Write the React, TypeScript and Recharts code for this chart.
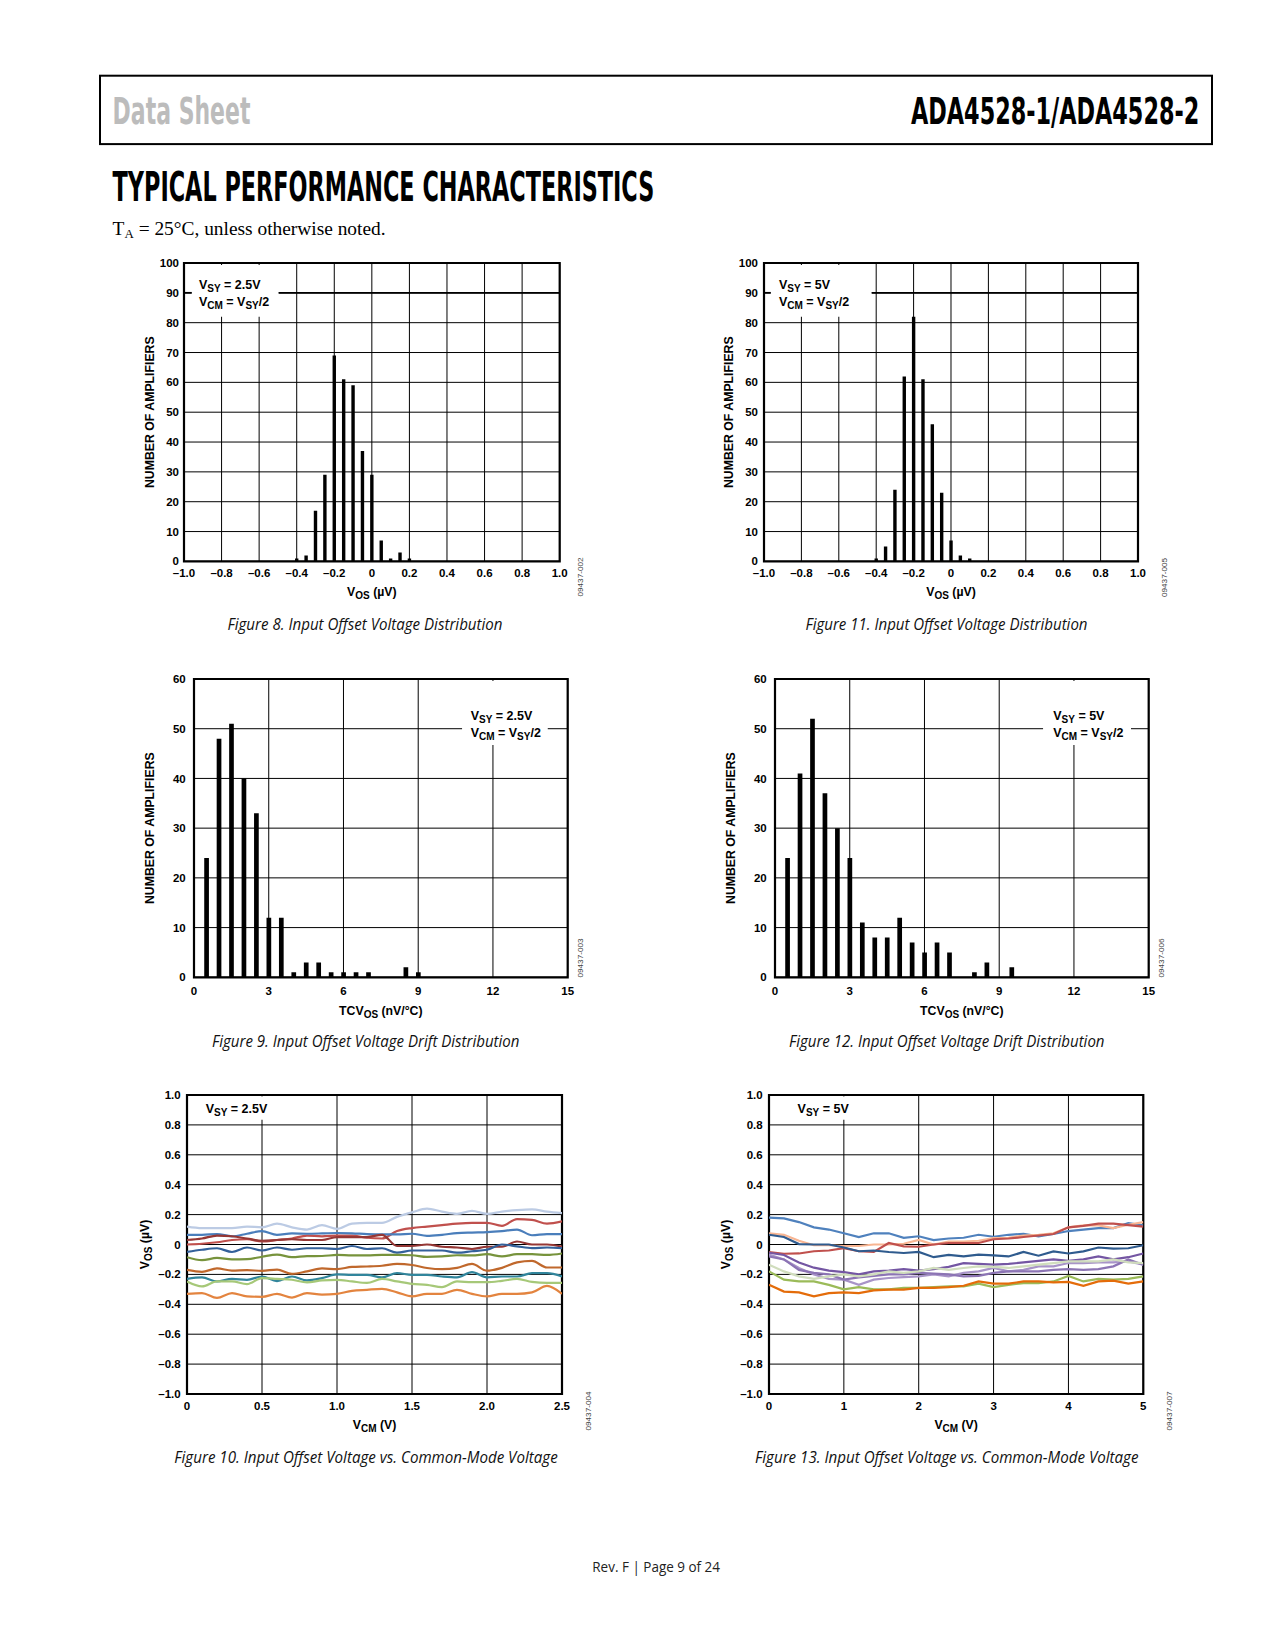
import React from 'react';
import { ComposedChart, Bar, Line, XAxis, YAxis, CartesianGrid, ReferenceArea, ReferenceLine } from 'recharts';

const SANS = '"Liberation Sans", Arial, Helvetica, sans-serif';
const COND = '"DejaVu Sans Condensed", "Liberation Sans Narrow", "DejaVu Sans", sans-serif';
const HUMAN = '"Open Sans", "Noto Sans", sans-serif';
const SERIF = '"Liberation Serif", "Times New Roman", serif';

// ---------- Figure 8: VOS distribution, VSY = 2.5V ----------
const fig8Vos = [-0.4, -0.35, -0.3, -0.25, -0.2, -0.15, -0.1, -0.05, 0, 0.05, 0.1, 0.15, 0.2];
const fig8Count = [1, 2, 17, 29, 69, 61, 59, 37, 29, 7, 1, 3, 1];

// ---------- Figure 11: VOS distribution, VSY = 5V ----------
const fig11Vos = [-0.4, -0.35, -0.3, -0.25, -0.2, -0.15, -0.1, -0.05, 0, 0.05, 0.1];
const fig11Count = [1, 5, 24, 62, 82, 61, 46, 23, 7, 2, 1];

// ---------- Figure 9: TCVOS distribution, VSY = 2.5V ----------
const fig9Tc = [0.5, 1, 1.5, 2, 2.5, 3, 3.5, 4, 4.5, 5, 5.5, 6, 6.5, 7, 8.5, 9];
const fig9Count = [24, 48, 51, 40, 33, 12, 12, 1, 3, 3, 1, 1, 1, 1, 2, 1];

// ---------- Figure 12: TCVOS distribution, VSY = 5V ----------
const fig12Tc = [0.5, 1, 1.5, 2, 2.5, 3, 3.5, 4, 4.5, 5, 5.5, 6, 6.5, 7, 8, 8.5, 9.5];
const fig12Count = [24, 41, 52, 37, 30, 24, 11, 8, 8, 12, 7, 5, 7, 5, 1, 3, 2];

// ---------- Figure 10: VOS vs VCM, VSY = 2.5V ----------
const fig10Vcm = [0, 0.1, 0.2, 0.3, 0.4, 0.5, 0.6, 0.7, 0.8, 0.9, 1.0, 1.1, 1.2, 1.3, 1.4, 1.5, 1.6, 1.7, 1.8, 1.9, 2.0, 2.1, 2.2, 2.3, 2.4, 2.5];
const fig10LightBlue = [0.12, 0.11, 0.11, 0.11, 0.12, 0.115, 0.14, 0.115, 0.10, 0.13, 0.105, 0.14, 0.145, 0.145, 0.185, 0.215, 0.24, 0.22, 0.205, 0.225, 0.205, 0.22, 0.23, 0.235, 0.22, 0.21];
const fig10Red = [0.0, 0.005, 0.015, 0.03, 0.035, 0.02, 0.03, 0.04, 0.06, 0.055, 0.06, 0.06, 0.045, 0.04, 0.09, 0.11, 0.12, 0.13, 0.14, 0.145, 0.145, 0.125, 0.17, 0.165, 0.14, 0.155];
const fig10Blue = [0.065, 0.065, 0.07, 0.055, 0.072, 0.09, 0.065, 0.074, 0.072, 0.074, 0.077, 0.075, 0.07, 0.068, 0.068, 0.072, 0.058, 0.065, 0.076, 0.08, 0.083, 0.09, 0.1, 0.062, 0.07, 0.07];
const fig10DarkRed = [0.03, 0.04, 0.06, 0.055, 0.04, 0.025, 0.03, 0.035, 0.03, 0.03, 0.05, 0.05, 0.05, 0.065, -0.01, -0.01, 0.0, -0.015, -0.02, -0.03, -0.015, -0.015, 0.02, 0.0, 0.0, -0.015];
const fig10DarkBlue = [-0.05, -0.035, -0.025, -0.05, -0.02, -0.04, -0.02, -0.035, -0.025, -0.025, -0.03, -0.01, -0.03, -0.025, -0.055, -0.04, -0.04, -0.04, -0.055, -0.045, -0.035, 0.0, -0.012, -0.024, -0.02, -0.024];
const fig10Olive = [-0.085, -0.105, -0.09, -0.1, -0.098, -0.082, -0.068, -0.085, -0.078, -0.077, -0.07, -0.073, -0.073, -0.07, -0.07, -0.072, -0.083, -0.08, -0.072, -0.073, -0.065, -0.08, -0.065, -0.065, -0.07, -0.06];
const fig10Brown = [-0.17, -0.183, -0.16, -0.175, -0.172, -0.176, -0.168, -0.196, -0.18, -0.16, -0.165, -0.15, -0.147, -0.142, -0.13, -0.137, -0.157, -0.165, -0.156, -0.13, -0.175, -0.156, -0.12, -0.11, -0.154, -0.154];
const fig10Teal = [-0.23, -0.22, -0.247, -0.23, -0.236, -0.214, -0.245, -0.214, -0.24, -0.225, -0.2, -0.203, -0.203, -0.22, -0.192, -0.203, -0.203, -0.214, -0.22, -0.185, -0.22, -0.214, -0.214, -0.192, -0.192, -0.214];
const fig10LightGreen = [-0.247, -0.28, -0.247, -0.247, -0.265, -0.225, -0.23, -0.236, -0.254, -0.24, -0.236, -0.247, -0.257, -0.23, -0.247, -0.263, -0.27, -0.285, -0.247, -0.252, -0.252, -0.243, -0.23, -0.25, -0.257, -0.257];
const fig10Orange = [-0.33, -0.325, -0.357, -0.325, -0.347, -0.35, -0.33, -0.355, -0.325, -0.335, -0.33, -0.31, -0.303, -0.297, -0.32, -0.347, -0.33, -0.33, -0.303, -0.33, -0.347, -0.33, -0.33, -0.32, -0.277, -0.33];
const fig10Series = [fig10LightBlue, fig10Red, fig10Blue, fig10DarkRed, fig10DarkBlue, fig10Olive, fig10Brown, fig10Teal, fig10LightGreen, fig10Orange];
const fig10Colors = ['#bccbe4', '#c0504d', '#4a7ebb', '#953735', '#33609a', '#77933c', '#c0682c', '#31859c', '#a6c878', '#e3843f'];

// ---------- Figure 13: VOS vs VCM, VSY = 5V ----------
const fig13Vcm = [0, 0.2, 0.4, 0.6, 0.8, 1.0, 1.2, 1.4, 1.6, 1.8, 2.0, 2.2, 2.4, 2.6, 2.8, 3.0, 3.2, 3.4, 3.6, 3.8, 4.0, 4.2, 4.4, 4.6, 4.8, 5.0];
const fig13Blue = [0.18, 0.175, 0.15, 0.115, 0.1, 0.075, 0.05, 0.075, 0.075, 0.045, 0.055, 0.03, 0.04, 0.045, 0.065, 0.052, 0.065, 0.072, 0.055, 0.07, 0.09, 0.1, 0.11, 0.11, 0.143, 0.128];
const fig13Peach = [0.075, 0.065, 0.025, -0.005, -0.005, -0.01, -0.01, 0.0, 0.0, 0.005, 0.03, 0.0, 0.02, 0.02, 0.025, 0.043, 0.045, 0.06, 0.065, 0.075, 0.115, 0.128, 0.128, 0.11, 0.132, 0.15];
const fig13Red = [-0.05, -0.062, -0.06, -0.045, -0.04, -0.025, -0.045, -0.05, 0.01, -0.012, -0.015, 0.0, 0.01, 0.01, 0.01, 0.035, 0.04, 0.05, 0.06, 0.07, 0.115, 0.125, 0.14, 0.14, 0.13, 0.12];
const fig13DarkBlue = [0.065, 0.05, 0.003, 0.0, 0.0, -0.02, -0.045, -0.04, -0.05, -0.057, -0.05, -0.085, -0.07, -0.08, -0.068, -0.073, -0.08, -0.05, -0.075, -0.046, -0.06, -0.046, -0.02, -0.028, -0.025, -0.005];
const fig13Purple1 = [-0.055, -0.07, -0.12, -0.155, -0.175, -0.185, -0.2, -0.18, -0.175, -0.165, -0.175, -0.165, -0.15, -0.125, -0.13, -0.135, -0.13, -0.12, -0.11, -0.1, -0.11, -0.1, -0.08, -0.1, -0.085, -0.06];
const fig13Purple2 = [-0.068, -0.1, -0.157, -0.2, -0.23, -0.235, -0.27, -0.235, -0.224, -0.218, -0.213, -0.2, -0.213, -0.19, -0.18, -0.157, -0.18, -0.17, -0.146, -0.146, -0.124, -0.124, -0.12, -0.12, -0.113, -0.135];
const fig13Purple3 = [-0.08, -0.1, -0.17, -0.19, -0.2, -0.235, -0.22, -0.21, -0.2, -0.2, -0.19, -0.195, -0.2, -0.213, -0.21, -0.19, -0.18, -0.18, -0.18, -0.17, -0.165, -0.17, -0.165, -0.146, -0.1, -0.135];
const fig13GrayGreen = [-0.135, -0.18, -0.213, -0.23, -0.213, -0.2, -0.213, -0.2, -0.18, -0.19, -0.18, -0.157, -0.17, -0.157, -0.146, -0.15, -0.157, -0.146, -0.135, -0.124, -0.113, -0.113, -0.113, -0.1, -0.12, -0.124];
const fig13Green = [-0.18, -0.235, -0.247, -0.247, -0.27, -0.3, -0.285, -0.3, -0.3, -0.29, -0.29, -0.285, -0.28, -0.28, -0.262, -0.285, -0.27, -0.258, -0.258, -0.247, -0.21, -0.247, -0.23, -0.235, -0.23, -0.213];
const fig13Orange = [-0.27, -0.315, -0.32, -0.347, -0.325, -0.32, -0.325, -0.307, -0.302, -0.302, -0.29, -0.29, -0.285, -0.276, -0.247, -0.262, -0.262, -0.247, -0.247, -0.253, -0.25, -0.276, -0.247, -0.242, -0.262, -0.247];
const fig13Series = [fig13Blue, fig13Peach, fig13Red, fig13DarkBlue, fig13Purple1, fig13Purple2, fig13Purple3, fig13GrayGreen, fig13Green, fig13Orange];
const fig13Colors = ['#4f81bd', '#f8b592', '#c0504d', '#2f5b8e', '#7456a3', '#a894c8', '#8c74b4', '#d0ddbd', '#9bbb59', '#e46c0a'];

// ---------- Axis ticks ----------
const vosHistTicks = [-1, -0.8, -0.6, -0.4, -0.2, 0, 0.2, 0.4, 0.6, 0.8, 1];
const vosHistLabels = ['\u20131.0', '\u20130.8', '\u20130.6', '\u20130.4', '\u20130.2', '0', '0.2', '0.4', '0.6', '0.8', '1.0'];
const count100Ticks = [0, 10, 20, 30, 40, 50, 60, 70, 80, 90, 100];
const count100Labels = ['0', '10', '20', '30', '40', '50', '60', '70', '80', '90', '100'];
const tcTicks = [0, 3, 6, 9, 12, 15];
const tcLabels = ['0', '3', '6', '9', '12', '15'];
const count60Ticks = [0, 10, 20, 30, 40, 50, 60];
const count60Labels = ['0', '10', '20', '30', '40', '50', '60'];
const vosLineTicks = [-1, -0.8, -0.6, -0.4, -0.2, 0, 0.2, 0.4, 0.6, 0.8, 1];
const vosLineLabels = ['\u20131.0', '\u20130.8', '\u20130.6', '\u20130.4', '\u20130.2', '0', '0.2', '0.4', '0.6', '0.8', '1.0'];
const vcm25Ticks = [0, 0.5, 1, 1.5, 2, 2.5];
const vcm25Labels = ['0', '0.5', '1.0', '1.5', '2.0', '2.5'];
const vcm5Ticks = [0, 1, 2, 3, 4, 5];
const vcm5Labels = ['0', '1', '2', '3', '4', '5'];

const histRows = (xs: number[], ys: number[]) => xs.map((x, i) => ({ x, c: ys[i] }));
const lineRows = (xs: number[], series: number[][]) =>
  xs.map((x, i) => {
    const row: any = { x };
    series.forEach((s, k) => { row['s' + k] = s[i]; });
    return row;
  });

const fmt = (ticks: number[], labels: string[]) => (v: number) => {
  const i = ticks.findIndex((t) => Math.abs(t - v) < 1e-9);
  return i >= 0 ? labels[i] : String(v);
};

const TXT = { fontFamily: SANS, fontWeight: 700, fontSize: 12.3, fill: '#000' } as const;
const SUB = 10;

const Vsy = (val: string) => (
  <>
    V<tspan dy={3} fontSize={SUB}>SY</tspan><tspan dy={-3}>{' = ' + val}</tspan>
  </>
);
const Vcm = (
  <>
    V<tspan dy={3} fontSize={SUB}>CM</tspan><tspan dy={-3}>{' = V'}</tspan><tspan dy={3} fontSize={SUB}>SY</tspan><tspan dy={-3}>/2</tspan>
  </>
);
const VosTitle = (
  <>
    V<tspan dy={3} fontSize={SUB}>OS</tspan><tspan dy={-3}>{' (\u00b5V)'}</tspan>
  </>
);
const TcTitle = (
  <>
    TCV<tspan dy={3} fontSize={SUB}>OS</tspan><tspan dy={-3}>{' (nV/\u00b0C)'}</tspan>
  </>
);
const VcmTitle = (
  <>
    V<tspan dy={3} fontSize={SUB}>CM</tspan><tspan dy={-3}>{' (V)'}</tspan>
  </>
);

function Panel(props: any) {
  const {
    px, py, pw, ph, data, xDomain, xTicks, xLabels, yDomain, yTicks, yLabels,
    xTitle, yTitle, yTitleDx, xTitleY, yGap, xGap, annot, rule, children,
  } = props;
  const ML = 70, MT = 15, MR = 25, XH = 60;
  const cx = px - ML, cy = py - MT;
  const W = pw + ML + MR, H = ph + MT + XH;
  const tickStyle = { fontFamily: SANS, fontWeight: 700, fontSize: 11.5, fill: '#000' };
  const ytx = ML - yTitleDx + 4.3;
  const yty = MT + ph / 2;
  return (
    <div style={{ position: 'absolute', left: cx, top: cy, width: W, height: H }}>
      <ComposedChart width={W} height={H} data={data} margin={{ top: MT, right: MR, left: 0, bottom: 0 }}>
        <CartesianGrid stroke="#000" strokeWidth={1} fill="none" />
        <XAxis
          type="number" dataKey="x" domain={xDomain} ticks={xTicks} allowDataOverflow interval={0}
          height={XH} tickLine={false} axisLine={false} tickSize={0} tickMargin={xGap}
          tick={tickStyle} tickFormatter={fmt(xTicks, xLabels)}
          label={() => (
            <text x={ML + pw / 2} y={xTitleY - cy} textAnchor="middle" style={TXT}>{xTitle}</text>
          )}
        />
        <YAxis
          type="number" domain={yDomain} ticks={yTicks} allowDataOverflow interval={0}
          width={ML} tickLine={false} axisLine={false} tickSize={0} tickMargin={yGap}
          tick={tickStyle} tickFormatter={fmt(yTicks, yLabels)}
          label={() => (
            <text x={ytx} y={yty} textAnchor="middle" transform={`rotate(-90 ${ytx} ${yty})`} style={TXT}>{yTitle}</text>
          )}
        />
        {annot && (
          <ReferenceArea
            x1={annot.x1} x2={annot.x2} y1={annot.y1} y2={annot.y2}
            fill="#fff" fillOpacity={1} stroke="none" ifOverflow="visible"
            label={() => (
              <g>
                {annot.lines.map((l: any, i: number) => (
                  <text key={i} x={l.x - cx} y={l.y - cy} style={{ ...TXT, fontSize: 12.5 }}>{l.content}</text>
                ))}
              </g>
            )}
          />
        )}
        {rule && rule.segs.map((s: number[], i: number) => (
          <ReferenceLine key={'r' + i} segment={[{ x: s[0], y: rule.y }, { x: s[1], y: rule.y }]} stroke="#000" strokeWidth={1.8} ifOverflow="visible" />
        ))}
        {children}
        <ReferenceArea x1={xDomain[0]} x2={xDomain[1]} y1={yDomain[0]} y2={yDomain[1]} fill="none" stroke="#000" strokeWidth={2.2} ifOverflow="visible" />
      </ComposedChart>
    </div>
  );
}

const Code = ({ x, y, text }: { x: number; y: number; text: string }) => (
  <text x={x + 2.6} y={y} textAnchor="middle" transform={`rotate(-90 ${x + 2.6} ${y})`}
    fontFamily={SANS} fontSize={7.5} fill="#444" textLength={39} lengthAdjust="spacingAndGlyphs">{text}</text>
);

const Caption = ({ x, w, y, text }: { x: number; w: number; y: number; text: string }) => (
  <text x={x} y={y} fontFamily={HUMAN} fontStyle="italic" fontSize={16} fill="#111" textLength={w} lengthAdjust="spacingAndGlyphs">{text}</text>
);

// Condensed heading: natural-size text stretched vertically to the heading height
const Heading = ({ x, y, w, size, sy, fill, text }: { x: number; y: number; w: number; size: number; sy: number; fill: string; text: string }) => (
  <text x={0} y={0} transform={`translate(${x} ${y}) scale(1 ${sy})`} fontFamily={COND} fontWeight={700}
    fontSize={size} fill={fill} textLength={w} lengthAdjust="spacingAndGlyphs">{text}</text>
);

export default function App() {
  return (
    <div style={{ position: 'absolute', left: 0, top: 0, width: 1275, height: 1650, background: '#fff', overflow: 'hidden' }}>
      <svg width={1275} height={1650} style={{ position: 'absolute', left: 0, top: 0 }}>
        <rect x={100} y={75.7} width={1112} height={68.4} fill="none" stroke="#000" strokeWidth={2} />
        <Heading x={112.6} y={124} w={137.8} size={24} sy={1.56} fill="#bcbcbc" text="Data Sheet" />
        <Heading x={911} y={124} w={288.3} size={25} sy={1.5} fill="#000" text="ADA4528-1/ADA4528-2" />
        <Heading x={112.6} y={201} w={541.7} size={24} sy={1.68} fill="#000" text="TYPICAL PERFORMANCE CHARACTERISTICS" />
        <text x={112.6} y={234.6} fontFamily={SERIF} fontSize={18} fill="#000" textLength={273} lengthAdjust="spacingAndGlyphs">
          T<tspan dy={3} fontSize={12}>A</tspan><tspan dy={-3}>{' = 25\u00b0C, unless otherwise noted.'}</tspan>
        </text>

        <Caption x={227.5} w={275} y={630} text="Figure 8. Input Offset Voltage Distribution" />
        <Caption x={805.5} w={282} y={630} text="Figure 11. Input Offset Voltage Distribution" />
        <Caption x={212} w={307.5} y={1046.5} text="Figure 9. Input Offset Voltage Drift Distribution" />
        <Caption x={789} w={315.5} y={1046.5} text="Figure 12. Input Offset Voltage Drift Distribution" />
        <Caption x={174.3} w={383.4} y={1462.7} text="Figure 10. Input Offset Voltage vs. Common-Mode Voltage" />
        <Caption x={755} w={383.5} y={1462.7} text="Figure 13. Input Offset Voltage vs. Common-Mode Voltage" />

        <Code x={580.7} y={577} text="09437-002" />
        <Code x={1164} y={577.5} text="09437-005" />
        <Code x={580.7} y={958} text="09437-003" />
        <Code x={1161.7} y={958} text="09437-006" />
        <Code x={588} y={1411} text="09437-004" />
        <Code x={1169} y={1411} text="09437-007" />

        <text x={592.3} y={1571.7} fontFamily={HUMAN} fontSize={15} fill="#222" textLength={127.7} lengthAdjust="spacingAndGlyphs">Rev. F | Page 9 of 24</text>
      </svg>

      {/* Figure 8 */}
      <Panel
        px={184.3} py={263.3} pw={375.7} ph={298.4}
        data={histRows(fig8Vos, fig8Count)}
        xDomain={[-1, 1]} xTicks={vosHistTicks} xLabels={vosHistLabels}
        yDomain={[0, 100]} yTicks={count100Ticks} yLabels={count100Labels}
        xTitle={VosTitle} yTitle="NUMBER OF AMPLIFIERS" yTitleDx={34.3} xTitleY={596}
        yGap={5} xGap={7.5}
        rule={{ y: 90, segs: [[-1, -0.959], [-0.496, 1]] }}
        annot={{ x1: -0.959, x2: -0.496, y1: 82, y2: 99.3, lines: [
          { x: 199.3, y: 289.3, content: Vsy('2.5V') },
          { x: 199.3, y: 306.7, content: Vcm },
        ] }}
      >
        <Bar dataKey="c" fill="#000" barSize={3.4} isAnimationActive={false} />
      </Panel>

      {/* Figure 11 */}
      <Panel
        px={764.3} py={263.3} pw={374} ph={298.4}
        data={histRows(fig11Vos, fig11Count)}
        xDomain={[-1, 1]} xTicks={vosHistTicks} xLabels={vosHistLabels}
        yDomain={[0, 100]} yTicks={count100Ticks} yLabels={count100Labels}
        xTitle={VosTitle} yTitle="NUMBER OF AMPLIFIERS" yTitleDx={35.3} xTitleY={596}
        yGap={6} xGap={7.5}
        rule={{ y: 90, segs: [[-1, -0.964], [-0.424, 1]] }}
        annot={{ x1: -0.964, x2: -0.424, y1: 82, y2: 99.3, lines: [
          { x: 779.3, y: 289.3, content: Vsy('5V') },
          { x: 779.3, y: 306.7, content: Vcm },
        ] }}
      >
        <Bar dataKey="c" fill="#000" barSize={3.4} isAnimationActive={false} />
      </Panel>

      {/* Figure 9 */}
      <Panel
        px={194} py={679} pw={373.7} ph={298.3}
        data={histRows(fig9Tc, fig9Count)}
        xDomain={[0, 15]} xTicks={tcTicks} xLabels={tcLabels}
        yDomain={[0, 60]} yTicks={count60Ticks} yLabels={count60Labels}
        xTitle={TcTitle} yTitle="NUMBER OF AMPLIFIERS" yTitleDx={44} xTitleY={1015}
        yGap={8.3} xGap={9.6}
        annot={{ x1: 10.76, x2: 14.2, y1: 46.7, y2: 59.6, lines: [
          { x: 470.7, y: 720, content: Vsy('2.5V') },
          { x: 470.7, y: 737.3, content: Vcm },
        ] }}
      >
        <Bar dataKey="c" fill="#000" barSize={4.7} isAnimationActive={false} />
      </Panel>

      {/* Figure 12 */}
      <Panel
        px={775} py={679} pw={373.7} ph={298.3}
        data={histRows(fig12Tc, fig12Count)}
        xDomain={[0, 15]} xTicks={tcTicks} xLabels={tcLabels}
        yDomain={[0, 60]} yTicks={count60Ticks} yLabels={count60Labels}
        xTitle={TcTitle} yTitle="NUMBER OF AMPLIFIERS" yTitleDx={44.3} xTitleY={1015}
        yGap={8.3} xGap={9.6}
        annot={{ x1: 10.76, x2: 14.29, y1: 46.7, y2: 59.6, lines: [
          { x: 1053.3, y: 720, content: Vsy('5V') },
          { x: 1053.3, y: 737.3, content: Vcm },
        ] }}
      >
        <Bar dataKey="c" fill="#000" barSize={4.7} isAnimationActive={false} />
      </Panel>

      {/* Figure 10 */}
      <Panel
        px={187.3} py={1095.3} pw={375} ph={299}
        data={lineRows(fig10Vcm, fig10Series)}
        xDomain={[0, 2.5]} xTicks={vcm25Ticks} xLabels={vcm25Labels}
        yDomain={[-1, 1]} yTicks={vosLineTicks} yLabels={vosLineLabels}
        xTitle={VcmTitle} yTitle={VosTitle} yTitleDx={42.3} xTitleY={1429.3}
        yGap={6.3} xGap={8.3}
        annot={{ x1: 0.085, x2: 0.565, y1: 0.835, y2: 0.99, lines: [
          { x: 206, y: 1113.3, content: Vsy('2.5V') },
        ] }}
      >
        {fig10Series.map((_, k) => (
          <Line key={k} dataKey={'s' + k} type="monotone" stroke={fig10Colors[k]} strokeWidth={2.2} dot={false} isAnimationActive={false} />
        ))}
      </Panel>

      {/* Figure 13 */}
      <Panel
        px={768.7} py={1095.3} pw={374.3} ph={299}
        data={lineRows(fig13Vcm, fig13Series)}
        xDomain={[0, 5]} xTicks={vcm5Ticks} xLabels={vcm5Labels}
        yDomain={[-1, 1]} yTicks={vosLineTicks} yLabels={vosLineLabels}
        xTitle={VcmTitle} yTitle={VosTitle} yTitleDx={43.7} xTitleY={1429.3}
        yGap={6.4} xGap={8.3}
        annot={{ x1: 0.285, x2: 1.11, y1: 0.835, y2: 0.99, lines: [
          { x: 797.3, y: 1113.3, content: Vsy('5V') },
        ] }}
      >
        {fig13Series.map((_, k) => (
          <Line key={k} dataKey={'s' + k} type="linear" stroke={fig13Colors[k]} strokeWidth={2.2} dot={false} isAnimationActive={false} />
        ))}
      </Panel>
    </div>
  );
}
